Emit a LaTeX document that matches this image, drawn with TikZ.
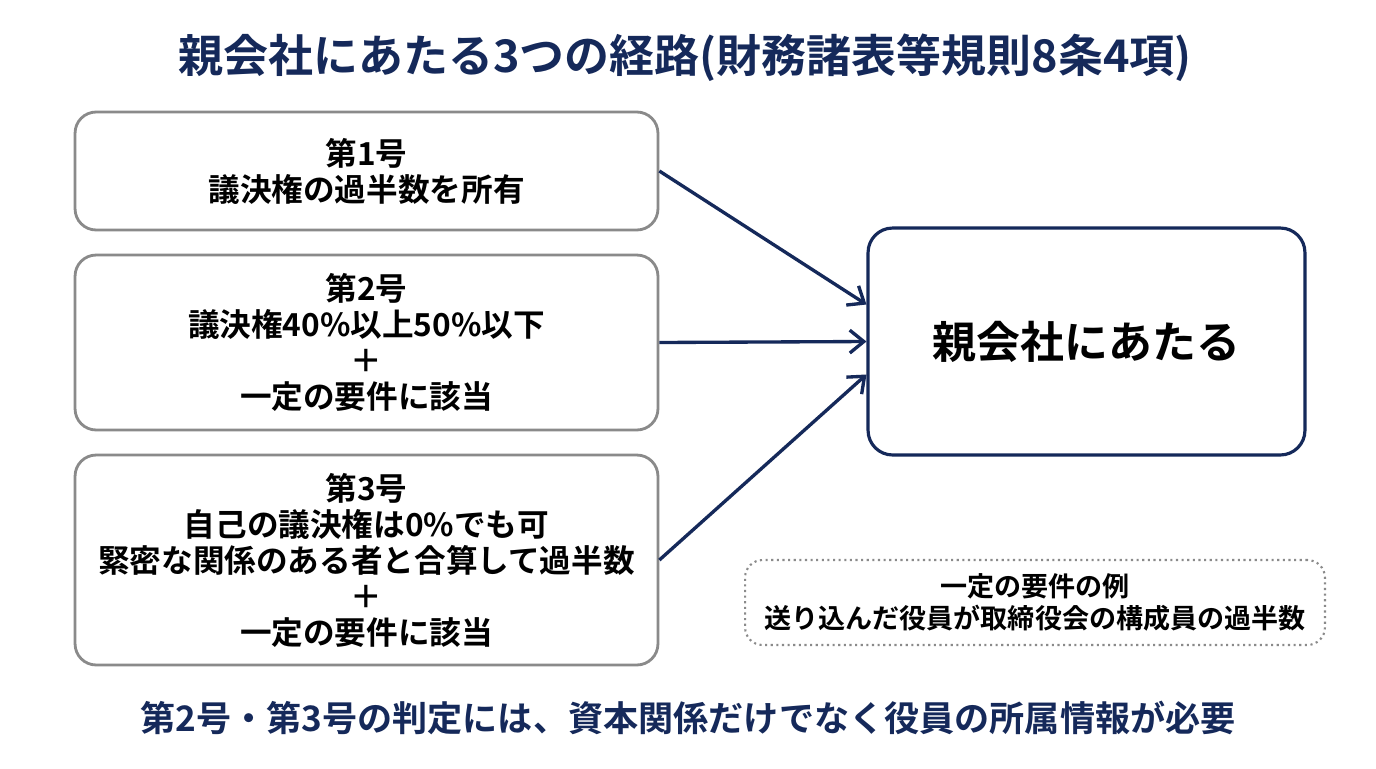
\documentclass[tikz,border=0pt]{standalone}
\usepackage{fontspec}
\setmainfont{Noto Sans CJK JP}[BoldFont={Noto Sans CJK JP Bold}]
\usetikzlibrary{arrows.meta}
\definecolor{navy}{HTML}{15295A}
\definecolor{boxgray}{HTML}{8A8A8A}
\begin{document}
\begin{tikzpicture}[x=0.02cm,y=-0.02cm,
  route/.style={draw=boxgray,line width=1.6pt,rounded corners=12pt,fill=white,
    align=center,text width=11.3cm,font=\bfseries\fontsize{18}{20.5}\selectfont,minimum width=11.66cm},
  arr/.style={draw=navy,line width=1.9pt,-{Straight Barb[length=8pt,width=13pt]}}]
  \useasboundingbox[fill=white] (0,0) rectangle (1376,768);
  % title
  \node[text=navy,font=\bfseries\fontsize{25.6}{28}\selectfont] (title) at (685,58) {親会社にあたる3つの経路(財務諸表等規則8条4項)};
  % three routes
  \node[route,minimum height=2.36cm] (no1) at (366.5,171) {第1号\\議決権の過半数を所有};
  \node[route,minimum height=3.5cm] (no2) at (366.5,342.5) {第2号\\議決権40\%以上50\%以下\\＋\\一定の要件に該当};
  \node[route,minimum height=4.2cm] (no3) at (366.5,560) {第3号\\自己の議決権は0\%でも可\\緊密な関係のある者と合算して過半数\\＋\\一定の要件に該当};
  % result
  \node[draw=navy,line width=1.8pt,rounded corners=14pt,minimum width=8.74cm,minimum height=4.54cm,
    font=\bfseries\fontsize{25}{28}\selectfont] (parent) at (1086.5,341.5) {親会社にあたる};
  \draw[arr] (no1.east) -- ([yshift=0.74cm]parent.west);
  \draw[arr] (no2.east) -- (parent.west);
  \draw[arr] (no3.east) -- ([yshift=-0.66cm]parent.west);
  % note
  \node[draw=boxgray,line width=1.2pt,dotted,rounded corners=10pt,minimum width=11.6cm,minimum height=1.7cm,
    align=center,font=\bfseries\fontsize{15.4}{18}\selectfont] (note) at (1035,602.5) {一定の要件の例\\送り込んだ役員が取締役会の構成員の過半数};
  \node[text=navy,font=\bfseries\fontsize{20}{24}\selectfont] (remark) at (688,718) {第2号・第3号の判定には、資本関係だけでなく役員の所属情報が必要};
\end{tikzpicture}
\end{document}
